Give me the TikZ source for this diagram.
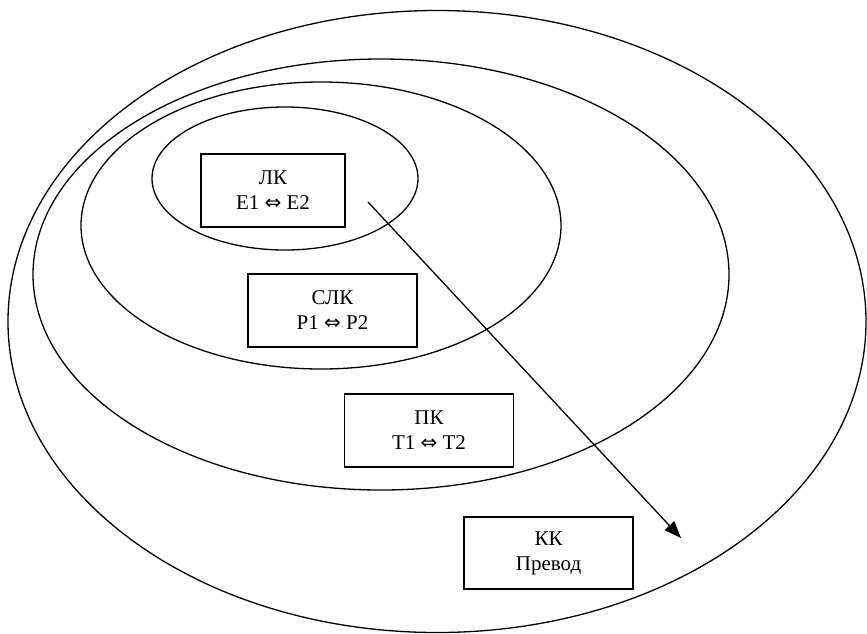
\documentclass[tikz,border=0pt]{standalone}
\usepackage{fontspec}
\setmainfont{Liberation Serif}
\newfontfamily\arrowfont{DejaVu Sans}
\usetikzlibrary{arrows.meta}
\newcommand{\twoway}{{\arrowfont\fontsize{20}{25}\selectfont ⇔}}

\begin{document}
\begin{tikzpicture}[x=1pt,y=-1pt,
  box/.style = {draw, rectangle, line width=1.5pt, minimum width=169pt, minimum height=73pt, inner sep=0pt, align=center, font=\fontsize{21}{25}\selectfont},
  ring/.style = {draw, line width=1.3pt}]
\useasboundingbox (0,0) rectangle (867,633);
% nested rings
\draw[ring] (437,321.5) ellipse [x radius=429, y radius=311];
\draw[ring] (381,274.5) ellipse [x radius=348, y radius=215.5];
\draw[ring] (321,225.5) ellipse [x radius=240, y radius=143.5];
\draw[ring] (285,178.5) ellipse [x radius=133, y radius=71.5];
% boxes
\node[box] (lk) at (273,190.5) [minimum width=144pt] {ЛК\\Е1 \twoway{} Е2};
\node[box] (slk) at (332.5,310.5) {СЛК\\Р1 \twoway{} Р2};
\node[box] (pk) at (429,430.5) {ПК\\Т1 \twoway{} Т2};
\node[box] (kk) at (548.5,553) [minimum height=72pt] {КК\\Превод};
% arrow
\coordinate (from) at (368,202);
\coordinate (to) at (681,538);
\draw[-{Triangle[length=17pt,width=13pt]}, line width=1.3pt] (from) -- (to);
\end{tikzpicture}
\end{document}
